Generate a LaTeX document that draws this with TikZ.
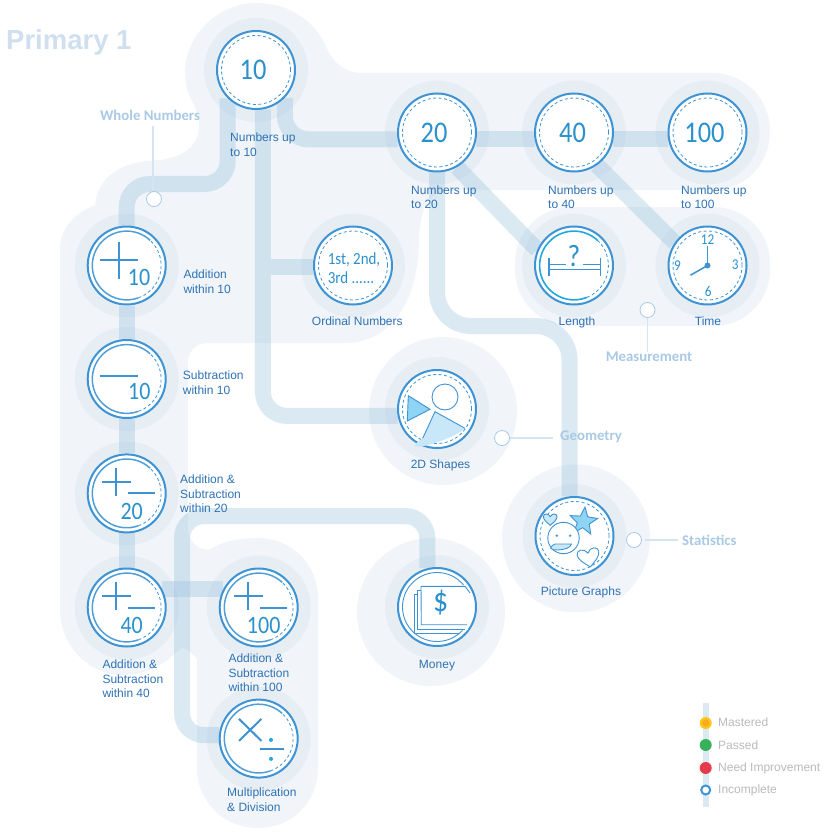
\documentclass[tikz,border=0pt]{standalone}
\usepackage{fontspec}
\setmainfont{Liberation Sans}
\newfontfamily\numfont[FakeStretch=0.88]{Carlito}
\newfontfamily\headfont{Carlito}
\usetikzlibrary{shapes.geometric}
\definecolor{regionfill}{HTML}{F1F5F9}
\definecolor{halofill}{HTML}{E6EEF4}
\definecolor{linkblue}{HTML}{92BDDC}
\definecolor{ringblue}{HTML}{3D93D3}
\definecolor{brightblue}{HTML}{1FA8E0}
\definecolor{numblue}{HTML}{2B91CD}
\definecolor{textblue}{HTML}{2E72B5}
\definecolor{headblue}{HTML}{A9C9E4}
\definecolor{titleblue}{HTML}{CFDFF0}
\definecolor{skyfill}{HTML}{8FD4F5}
\definecolor{palefill}{HTML}{C8E8FA}
\definecolor{masteredgold}{HTML}{FFC61A}
\definecolor{masteredcore}{HTML}{FBA91E}
\definecolor{passedgreen}{HTML}{38B25A}
\definecolor{improvered}{HTML}{E63B4B}
\pgfdeclarelayer{region}
\pgfdeclarelayer{link}
\pgfsetlayers{region,link,main}
\begin{document}
\begin{tikzpicture}[
		x=1pt, y=-1pt,
		skill/.style={circle, draw=ringblue, line width=2pt, fill=white, minimum size=78pt, inner sep=0pt, text=numblue},
		bignum/.style={font=\numfont\fontsize{30}{32}\selectfont},
		smallnum/.style={font=\numfont\fontsize{25}{27}\selectfont, text=numblue, inner sep=0pt},
		clocknum/.style={font=\numfont\fontsize{15}{17}\selectfont, text=numblue, inner sep=0pt},
		skilltext/.style={font=\fontsize{12}{14.3}\selectfont, text=textblue, align=left, anchor=west, inner sep=0pt},
		skillmid/.style={font=\fontsize{12}{14.3}\selectfont, text=textblue, anchor=center, inner sep=0pt, text height=9pt, text depth=3pt},
		groupname/.style={font=\headfont\bfseries\fontsize{14.8}{17}\selectfont, text=headblue, inner sep=0pt},
		legendtext/.style={font=\fontsize{12}{14}\selectfont, text=black!27, anchor=west, inner sep=0pt},
		legenddot/.style={circle, minimum size=12pt, inner sep=0pt},
		region/.style={fill=regionfill},
		halo/.style={fill=halofill},
		linkline/.style={draw=linkblue, opacity=.33, line width=16pt},
		ringdash/.style={draw=ringblue, line width=.8pt, dash pattern=on 3pt off 2.5pt},
		ringsolid/.style={draw=ringblue!90!white, line width=1.5pt},
		iconline/.style={draw=ringblue, line width=2pt},
		lengthline/.style={draw=ringblue, line width=1.2pt},
		thinline/.style={draw=ringblue, line width=.9pt},
		calloutdot/.style={circle, draw=headblue, line width=.8pt, fill=white, minimum size=15pt, inner sep=0pt},
		calloutline/.style={draw=headblue!50!white, line width=1.3pt},
		progress/.pic={
			\draw[ringsolid] (47:34.4pt) arc[start angle=47, end angle=290, radius=34.4pt];
			\draw[ringdash] (-70:34.4pt) arc[start angle=-70, end angle=47, radius=34.4pt];
		},
		plusminus/.pic={
			\draw[iconline] (-10.7,-25.4) -- (-10.7,2.6);
			\draw[iconline] (-24.7,-11.4) -- (4.3,-11.4);
			\draw[iconline] (1.6,0) -- (28.3,0);
			\node[smallnum] (-num) at (5,17.6) {#1};
		},
		heart/.pic={
			\draw[thinline, pic actions] (0,9) .. controls (-6,4) and (-11,0) .. (-11,-5) .. controls (-11,-10) and (-3,-11) .. (0,-5) .. controls (3,-11) and (11,-10) .. (11,-5) .. controls (11,0) and (6,4) .. (0,9) -- cycle;
		}
	]

	% Title
	\node[anchor=west, inner sep=0pt, font=\bfseries\fontsize{27.5}{30}\selectfont, text=titleblue] (title) at (6,42) {Primary 1};

	% Skills
	\node[skill, bignum] (n10) at (256,70) {10\kern6pt};
	\node[skill, bignum] (n20) at (437,132.5) {20\kern6pt};
	\node[skill, bignum] (n40) at (574,132.5) {40\kern3pt};
	\node[skill, bignum] (n100) at (707.5,132.5) {100\kern6pt};
	\node[skill] (ordinal) at (353,265.5) {};
	\node[skill] (length) at (574,265.5) {};
	\node[skill] (time) at (707.5,265.5) {};
	\node[skill] (add10) at (126.7,265.5) {};
	\node[skill] (sub10) at (126.7,379) {};
	\node[skill] (as20) at (126.7,493.4) {};
	\node[skill] (as40) at (126.7,607.5) {};
	\node[skill] (as100) at (258.7,607.5) {};
	\node[skill] (muldiv) at (258.7,738.6) {};
	\node[skill] (shapes2d) at (437,409) {};
	\node[skill] (graphs) at (574.5,536) {};
	\node[skill] (money) at (437,607) {};

	% Background regions
	\begin{pgfonlayer}{region}
		\fill[region] (256,3)
			.. controls (296,3) and (318,28) .. (326,46)
			.. controls (332,62) and (345,73) .. (362,73)
			-- (712,73)
			.. controls (745,73) and (770,99) .. (770,131)
			.. controls (770,165) and (745,190) .. (712,190)
			-- (450,190)
			.. controls (428,190) and (420,210) .. (419,240)
			.. controls (418,310) and (385,343) .. (345,343)
			-- (208,343)
			.. controls (196,343) and (188,351) .. (188,363)
			-- (188,530)
			.. controls (190,545) and (203,552) .. (211,549)
			.. controls (222,541) and (240,538) .. (258,538)
			.. controls (292,538) and (318,565) .. (318,598)
			-- (318,768)
			.. controls (318,802) and (292,828) .. (258,828)
			.. controls (224,828) and (197,802) .. (197,768)
			-- (197,659)
			.. controls (192,652) and (186,649) .. (181,648)
			.. controls (165,665) and (145,675) .. (123,675)
			.. controls (88,675) and (60,645) .. (60,610)
			-- (60,250)
			.. controls (60,225) and (78,212) .. (95,205)
			.. controls (97,185) and (110,165) .. (147,161)
			.. controls (165,160) and (185,158) .. (196,140)
			.. controls (203,125) and (197,110) .. (190,97)
			.. controls (186,88) and (185,80) .. (185,73)
			.. controls (185,35) and (218,3) .. (256,3) -- cycle;
		\fill[region, rounded corners=56pt] (515,207) rectangle (770,326);
		\fill[region] (443,411) circle (74pt);
		\fill[region] (576,538.5) circle (74pt);
		\fill[region] (431,612) circle (74pt);
		\fill[halo] (n10) circle (52pt) (n20) circle (52pt) (n40) circle (52pt) (n100) circle (52pt)
			(ordinal) circle (52pt) (length) circle (52pt) (time) circle (52pt)
			(add10) circle (52pt) (sub10) circle (52pt) (as20) circle (52pt) (as40) circle (52pt)
			(as100) circle (52pt) (muldiv) circle (52pt) (shapes2d) circle (52pt)
			(graphs) circle (52pt) (money) circle (52pt);
	\end{pgfonlayer}

	% Links
	\begin{pgfonlayer}{link}
		\coordinate (ordjoin) at (271,266.5);
		\coordinate (loopcorner) at (182,516);
		\draw[linkline, rounded corners=23pt] (n10.225) -- (n10.225 |- 0,184) -- (add10.north |- 0,184) -- (add10.north);
		\draw[linkline, rounded corners=24pt] (n10.280) |- (shapes2d.190);
		\draw[linkline] (ordjoin) -- (ordinal.west |- ordjoin);
		\draw[linkline, rounded corners=24pt] (n10.316) |- (n20.190);
		\draw[linkline] (n20.-10) -- (n40.190);
		\draw[linkline] (n40.-10) -- (n100.190);
		\draw[linkline] (n20.-60) -- (length.157);
		\draw[linkline] (n40.-55) -- (time.145);
		\draw[linkline, rounded corners=34pt] (n20.south) -- (n20.south |- 0,326) -- (graphs.97 |- 0,326) -- (graphs.97);
		\draw[linkline] (add10.south) -- (sub10.north);
		\draw[linkline] (sub10.south) -- (as20.north);
		\draw[linkline] (as20.south) -- (as40.north);
		\draw[linkline] (as40.28) -- (as100.152);
		\draw[linkline, rounded corners=22pt] (muldiv.175) -- (loopcorner |- muldiv.175) -- (loopcorner) -- (money.104 |- loopcorner) -- (money.104);
	\end{pgfonlayer}

	% Dashed rings
	\draw[ringdash] (n10) circle (34.5pt) (n20) circle (34.5pt) (n40) circle (34.5pt) (n100) circle (34.5pt)
		(ordinal) circle (34.5pt) (time) circle (34.5pt) (shapes2d) circle (34.5pt) (graphs) circle (34.5pt);

	% Progress rings
	\pic at (add10) {progress};
	\pic at (sub10) {progress};
	\pic at (as20) {progress};
	\pic at (as40) {progress};
	\pic at (as100) {progress};
	\pic at (muldiv) {progress};

	% Arithmetic icons
	\draw[iconline] (add10.center) ++(-7.7,-24) -- ++(0,37);
	\draw[iconline] (add10.center) ++(-27,-5.5) -- ++(38.5,0);
	\node[smallnum] (add10num) at (139,277.6) {10};
	\draw[iconline] (sub10.center) ++(-27,-3) -- ++(38.5,0);
	\node[smallnum] (sub10num) at (139.3,391.7) {10};
	\pic (as20icon) at (as20) {plusminus=20};
	\pic (as40icon) at (as40) {plusminus=40};
	\pic (as100icon) at (as100) {plusminus=100};
	\draw[iconline] (muldiv.center) ++(-19.7,-19.7) -- ++(22.4,22);
	\draw[iconline] (muldiv.center) ++(2.7,-19.7) -- ++(-22.4,22);
	\draw[iconline] (muldiv.center) ++(1,10.7) -- ++(24.3,0);
	\fill[brightblue] (muldiv.center) ++(12.3,1.3) circle (2pt);
	\fill[brightblue] (muldiv.center) ++(12.3,20.3) circle (2pt);

	% Ordinal numbers
	\node[font=\numfont\fontsize{17}{19}\selectfont, text=numblue, align=left, inner sep=0pt] (ordtext) at (354,268.5) {1st, 2nd,\\3rd ......};

	% Length
	\draw[brightblue, line width=1.6pt] (length.center) ++(46:34.4pt) arc[start angle=46, end angle=292, radius=34.4pt];
	\draw[ringdash] (length.center) ++(-68:34.4pt) arc[start angle=-68, end angle=46, radius=34.4pt];
	\draw[lengthline] (length.center) ++(-25,-8) -- ++(0,18.7);
	\draw[lengthline] (length.center) ++(26.3,-8) -- ++(0,18.7);
	\draw[lengthline] (length.center) ++(-25,4) -- ++(51.3,0);
	\draw[lengthline] (length.center) ++(-25,-.7) -- ++(16.5,0);
	\draw[lengthline] (length.center) ++(9,-.7) -- ++(17.3,0);
	\node[font=\numfont\fontsize{31}{33}\selectfont, text=numblue, inner sep=0pt] (lengthmark) at (574,256) {?};

	% Clock
	\node[clocknum] (clock12) at (707.5,239.5) {12};
	\node[clocknum] (clock3) at (735.2,265) {3};
	\node[clocknum] (clock6) at (708.2,291.2) {6};
	\node[clocknum] (clock9) at (677.5,265.5) {9};
	\draw[iconline, line width=1.5pt] (time.center) -- ++(0,-20);
	\draw[iconline, line width=1.5pt] (time.center) -- ++(-17,9.7);
	\fill[ringblue] (time.center) circle (3pt);

	% 2D shapes
	\draw[thinline, fill=skyfill] (shapes2d.center) ++(-28.7,-13.3) -- ++(21.7,13.6) -- ++(-22.7,11.7) -- cycle;
	\draw[thinline] (shapes2d.center) ++(8,-12) circle (13pt);
	\fill[palefill] (shapes2d.center) ++(-2,2.7) -- ++(30,16.6) .. controls +(-8,10) and +(-30,20) .. ++(-42.3,10) -- cycle;
	\draw[thinline] (shapes2d.center) ++(-14.3,29.3) -- ++(12.3,-26.6) -- ++(30,16.6);

	% Picture graphs
	\pic[scale=.62, fill=palefill] (smallheart) at (550.2,519.7) {heart};
	\pic[rotate=10] (bigheart) at (588.8,558) {heart};
	\node[star, star points=5, star point ratio=2.3, draw=ringblue, line width=.9pt, fill=skyfill, minimum size=29pt, inner sep=0pt, rotate=-6] (starshape) at (583.5,521.5) {};
	\draw[thinline, fill=white] (graphs.center) ++(-11,2) circle (15.7pt);
	\fill[ringblue] (graphs.center) ++(-17.7,-.3) circle (1.3pt);
	\fill[ringblue] (graphs.center) ++(-4.3,-.3) circle (1.3pt);
	\draw[thinline, fill=palefill] (graphs.center) ++(-19.5,8) -- ++(16.5,0) .. controls +(-1,8) and +(-15.5,8) .. ++(-16.5,0) -- cycle;

	% Money
	\draw[thinline] (money.center) ++(40:34.5pt) arc[start angle=40, end angle=320, radius=34.5pt];
	\fill[white] (money.center) ++(-23,-13) -- ++(46,-4) -- ++(8,40) -- ++(-54,3) -- cycle;
	\draw[thinline] (money.center) ++(23,26) -- ++(-46,0) -- ++(0,-39) -- ++(4,0);
	\draw[thinline] (money.center) ++(28,22) -- ++(-47.3,0) -- ++(0,-38.7) -- ++(4,0);
	\draw[thinline, fill=white] (money.center) ++(30,17.7) -- ++(-45.7,0) -- ++(-.3,-38.4) -- ++(44,0) -- ++(5,6.7);
	\node[font=\numfont\fontsize{34}{36}\selectfont, text=numblue, inner sep=0pt] (dollar) at (440.7,603) {\$};

	% Skill names
	\node[skilltext] (n10text) at (230,144.7) {Numbers up\\to 10};
	\node[skilltext] (n20text) at (411,197.5) {Numbers up\\to 20};
	\node[skilltext] (n40text) at (548,197.5) {Numbers up\\to 40};
	\node[skilltext] (n100text) at (681,197.5) {Numbers up\\to 100};
	\node[skillmid] (ordinaltext) at (357.3,322) {Ordinal Numbers};
	\node[skillmid] (lengthtext) at (577,322) {Length};
	\node[skillmid] (timetext) at (708,322) {Time};
	\node[skilltext] (add10text) at (183.3,281.7) {Addition\\within 10};
	\node[skilltext] (sub10text) at (182.7,382.7) {Subtraction\\within 10};
	\node[skilltext] (as20text) at (180,494) {Addition \&\\Subtraction\\within 20};
	\node[skilltext] (as40text) at (102.3,679) {Addition \&\\Subtraction\\within 40};
	\node[skilltext] (as100text) at (228.3,673) {Addition \&\\Subtraction\\within 100};
	\node[skilltext] (muldivtext) at (227,799.7) {Multiplication\\\& Division};
	\node[skillmid] (shapes2dtext) at (440.5,465) {2D Shapes};
	\node[skillmid] (graphstext) at (581,592.6) {Picture Graphs};
	\node[skillmid] (moneytext) at (437,665) {Money};

	% Group names
	\node[groupname] (wholehead) at (150,115) {Whole Numbers};
	\node[calloutdot] (wholedot) at (154,199) {};
	\draw[calloutline, shorten <=6pt] (wholehead.south -| 153,0) -- (wholedot.north -| 153,0);
	\node[groupname] (measurehead) at (649,357) {Measurement};
	\node[calloutdot] (measuredot) at (647.5,310) {};
	\draw[calloutline] (measuredot.south) -- (measuredot.south |- measurehead.north);
	\node[groupname, anchor=west] (geohead) at (560,437) {Geometry};
	\node[calloutdot] (geodot) at (502,438) {};
	\draw[calloutline, shorten >=7pt] (geodot.east) -- (geodot.east -| geohead.west);
	\node[groupname, anchor=west] (stathead) at (682,540) {Statistics};
	\node[calloutdot] (statdot) at (634,540) {};
	\draw[calloutline, shorten <=3pt, shorten >=4pt] (statdot.east) -- (stathead.west);

	% Legend
	\coordinate (legendtop) at (705.7,703);
	\coordinate (legendend) at (705.7,807);
	\draw[draw=linkblue, opacity=.33, line width=6pt] (legendtop) -- (legendend);
	\node[legenddot, fill=masteredgold] (mastered) at (705.7,723) {};
	\fill[masteredcore] (mastered) circle (3.5pt);
	\node[legenddot, fill=passedgreen] (passed) at (705.7,745) {};
	\node[legenddot, fill=improvered] (improve) at (705.7,768) {};
	\node[legenddot, draw=ringblue, line width=2pt, fill=white, minimum size=9pt] (incomplete) at (705.7,790) {};
	\node[legendtext] at (718,722) (masteredtext) {Mastered};
	\node[legendtext] at (718,745.5) (passedtext) {Passed};
	\node[legendtext] at (718,768.5) (improvetext) {Need Improvement};
	\node[legendtext] at (718,790.5) (incompletetext) {Incomplete};

	\useasboundingbox (0,0) rectangle (825,837);
\end{tikzpicture}
\end{document}
